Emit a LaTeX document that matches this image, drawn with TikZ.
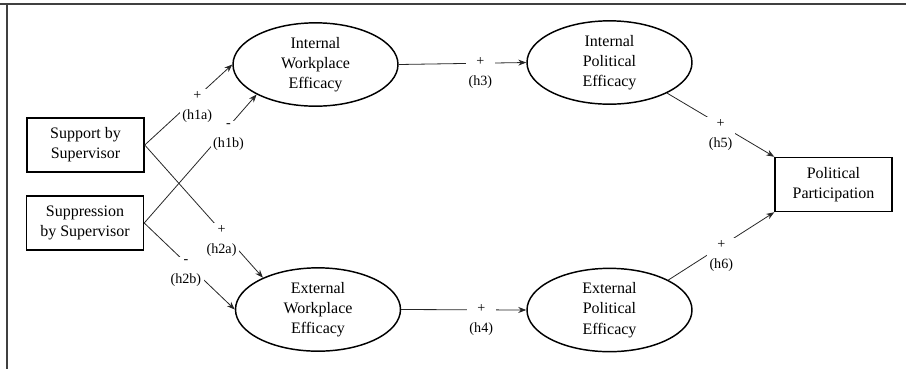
\documentclass[tikz,border=0pt]{standalone}
\usepackage{fontspec}
\setmainfont{Liberation Serif}
\usetikzlibrary{shapes.geometric,arrows.meta}

\begin{document}
\begin{tikzpicture}[x=0.75pt, y=-0.75pt,
  font=\fontsize{12}{15.2}\selectfont,
  latent/.style={ellipse, draw, line width=1.1pt, minimum width=123.75pt, minimum height=62.5pt, inner sep=0pt, align=center},
  observed/.style={rectangle, draw, line width=1.1pt, minimum width=87.75pt, minimum height=40.5pt, inner sep=0pt, align=center},
  effect/.style={-{Stealth[length=6pt,width=4.5pt]}, line width=0.6pt, draw=black!85},
  hyp/.style={fill=white, inner sep=2pt, align=center, yshift=-7.5pt, font=\fontsize{10.6}{15}\selectfont}]

\useasboundingbox (0,0) rectangle (906,369);

% frame
\draw[line width=1.1pt, black!75] (906,4) -- (0,4);
\draw[line width=1.1pt, black!75] (7,4) -- (7,369);

% supervisor
\node[observed] (sup) at (85.5,145) {Support by\\Supervisor};
\node[observed] (spr) at (85,223) {Suppression\\by Supervisor};

% workplace efficacy
\node[latent] (iwe) at (315.5,64.5) {Internal\\Workplace\\Efficacy};
\node[latent] (ewe) at (318,309.5) {External\\Workplace\\Efficacy};

% political efficacy
\node[latent] (ipe) at (609.5,62.5) {Internal\\Political\\Efficacy};
\node[latent] (epe) at (609.5,310) {External\\Political\\Efficacy};

\node[observed] (pp) at (833.5,184.5) {Political\\Participation};

\draw[effect] (sup.east) -- node[hyp, pos=.6] (h1a) {+\\(h1a)} (iwe.west);
\draw[effect] (spr.east) -- node[hyp, pos=.75] (h1b) {-\\(h1b)} (iwe.207);
\draw[effect] (sup.east) -- node[hyp, pos=.65] (h2a) {+\\(h2a)} (ewe.150);
\draw[effect] (spr.east) -- node[hyp, pos=.46] (h2b) {-\\(h2b)} (ewe.west);

\draw[effect] (iwe.east) -- node[hyp, pos=.64] (h3) {+\\(h3)} (ipe.west);
\draw[effect] (ewe.east) -- node[hyp, pos=.64] (h4) {+\\(h4)} (epe.west);

\draw[effect] (ipe.-28) -- node[hyp, pos=.5] (h5) {+\\(h5)} (pp.north west);
\draw[effect] (epe.27) -- node[hyp, pos=.5] (h6) {+\\(h6)} (pp.south west);

\end{tikzpicture}
\end{document}
